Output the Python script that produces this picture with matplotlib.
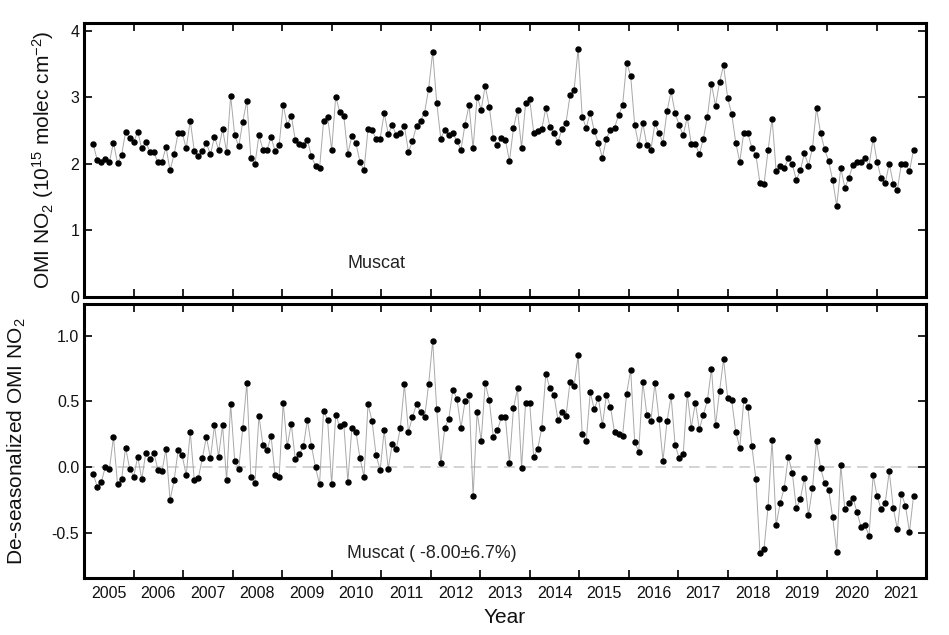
import numpy as np
import matplotlib
matplotlib.use("Agg")
import matplotlib.pyplot as plt
from matplotlib import font_manager
from matplotlib.ticker import FixedLocator, NullFormatter, FixedFormatter

plt.rcParams['font.family'] = ['Liberation Sans', 'DejaVu Sans']
plt.rcParams['mathtext.default'] = 'regular'
plt.rcParams['axes.unicode_minus'] = False

# narrow face for the tick labels if it is there
names = {f.name for f in font_manager.fontManager.ttflist}
if 'Liberation Sans Narrow' in names:
    tick_font, tick_size = 'Liberation Sans Narrow', 13
else:
    tick_font, tick_size = 'Liberation Sans', 11.5

# year labels on the x axis
years = [str(y) for y in range(2005, 2022)]

# monthly OMI NO2 over Muscat (1e15 molec/cm2)
no2 = [
    2.29, 2.05, 2.03, 2.07, 2.03, 2.32, 2.01, 2.13, 2.48, 2.39,
    2.33, 2.48, 2.23, 2.33, 2.18, 2.17, 2.02, 2.03, 2.25, 1.90,
    2.14, 2.46, 2.47, 2.23, 2.65, 2.19, 2.12, 2.19, 2.31, 2.14,
    2.41, 2.21, 2.52, 2.18, 3.02, 2.43, 2.26, 2.63, 2.95, 2.09,
    1.99, 2.43, 2.21, 2.21, 2.40, 2.19, 2.28, 2.89, 2.58, 2.72,
    2.36, 2.29,
    2.28, 2.36, 2.11, 1.97, 1.93, 2.64, 2.71, 2.21, 3.01, 2.78,
    2.72, 2.15, 2.42, 2.31, 2.03, 1.90, 2.52, 2.51, 2.37, 2.38,
    2.76, 2.45, 2.58, 2.43, 2.47, 2.57, 2.18, 2.34, 2.57, 2.65,
    2.77, 3.13, 3.68, 2.92, 2.38, 2.51, 2.43, 2.46, 2.34, 2.21,
    2.59, 2.88, 2.23, 3.01, 2.81, 3.17, 2.86, 2.39, 2.28, 2.39,
    2.36, 2.04,
    2.54, 2.81, 2.24, 2.91, 2.97, 2.47, 2.49, 2.52, 2.84, 2.56,
    2.46, 2.33, 2.52, 2.62, 3.03, 3.11, 3.73, 2.71, 2.54, 2.77,
    2.49, 2.32, 2.09, 2.38, 2.51, 2.54, 2.73, 2.88, 3.52, 3.32,
    2.58, 2.28, 2.61, 2.28, 2.21, 2.61, 2.46, 2.32, 2.79, 3.09,
    2.76, 2.58, 2.43, 2.70, 2.30, 2.30, 2.14, 2.38, 2.71, 3.20,
    2.87, 3.23,
    3.48, 2.99, 2.75, 2.32, 2.03, 2.47, 2.46, 2.24, 2.13, 1.71,
    1.69, 2.20, 2.68, 1.89, 1.96, 1.93, 2.08, 1.99, 1.76, 1.90,
    2.16, 1.97, 2.24, 2.84, 2.46, 2.22, 2.04, 1.75, 1.37, 1.94,
    1.64, 1.79, 1.98, 2.03, 2.03, 2.09, 1.97, 2.38, 2.03, 1.78,
    1.71, 2.00, 1.70, 1.61, 2.00, 2.00, 1.89, 2.21,
]

# de-seasonalized series
deseas = [
    -0.05, -0.15, -0.11, 0.005, -0.01, 0.23, -0.13, -0.09, 0.15, -0.01,
    -0.07, 0.08, -0.09, 0.11, 0.06, 0.11, -0.02, -0.03, 0.14, -0.25,
    -0.10, 0.13, 0.09, -0.06, 0.27, -0.10, -0.08, 0.07, 0.23, 0.07,
    0.32, 0.08, 0.32, -0.10, 0.48, 0.05, -0.01, 0.30, 0.64, -0.07,
    -0.12, 0.39, 0.17, 0.13, 0.24, -0.06, -0.07, 0.49, 0.16, 0.33,
    0.06, 0.10,
    0.16, 0.36, 0.16, 0.00, -0.13, 0.43, 0.36, -0.13, 0.40, 0.31,
    0.33, -0.11, 0.30, 0.27, 0.07, -0.07, 0.48, 0.35, 0.09, -0.02,
    0.28, -0.01, 0.18, 0.14, 0.30, 0.63, 0.27, 0.38, 0.48, 0.42,
    0.38, 0.63, 0.96, 0.44, 0.03, 0.30, 0.37, 0.59, 0.52, 0.30,
    0.50, 0.55, -0.22, 0.42, 0.20, 0.64, 0.51, 0.23, 0.28, 0.38,
    0.38, 0.03,
    0.45, 0.60, -0.005, 0.49, 0.49, 0.08, 0.14, 0.30, 0.71, 0.60,
    0.55, 0.36, 0.42, 0.39, 0.65, 0.62, 0.85, 0.25, 0.20, 0.57,
    0.44, 0.53, 0.32, 0.55, 0.46, 0.27, 0.25, 0.24, 0.56, 0.74,
    0.19, 0.12, 0.65, 0.40, 0.35, 0.64, 0.37, 0.05, 0.35, 0.54,
    0.17, 0.07, 0.10, 0.56, 0.30, 0.49, 0.29, 0.40, 0.51, 0.75,
    0.32, 0.58,
    0.82, 0.53, 0.51, 0.27, 0.15, 0.51, 0.46, 0.16, -0.09, -0.65,
    -0.62, -0.30, 0.21, -0.44, -0.27, -0.16, 0.08, -0.04, -0.31, -0.24,
    -0.08, -0.36, -0.16, 0.20, -0.005, -0.12, -0.17, -0.38, -0.64, 0.02,
    -0.32, -0.27, -0.23, -0.34, -0.45, -0.44, -0.52, -0.06, -0.22, -0.32,
    -0.27, -0.03, -0.31, -0.47, -0.20, -0.29, -0.49, -0.22,
]

months = np.arange(len(no2))
xlim = (-2.3, 206.1)
bounds = np.linspace(xlim[0], xlim[1], len(years) + 1)
mids = (bounds[:-1] + bounds[1:]) / 2

fig = plt.figure(figsize=(9.49, 6.35), dpi=100)
ax1 = fig.add_axes([0.0885, 0.5323, 0.8873, 0.4310])
ax2 = fig.add_axes([0.0885, 0.0898, 0.8873, 0.4315])

txtc = '#111111'
for ax in (ax1, ax2):
    ax.set_xlim(xlim)
    ax.xaxis.set_major_locator(FixedLocator(bounds[1:-1]))
    ax.xaxis.set_major_formatter(NullFormatter())
    ax.xaxis.set_minor_locator(FixedLocator(mids))
    ax.tick_params(which='major', direction='in', length=6, width=1.3,
                   top=True, right=True, colors=txtc)
    ax.tick_params(which='minor', length=0)
    for sp in ax.spines.values():
        sp.set_linewidth(2.2)

ax1.xaxis.set_minor_formatter(NullFormatter())
ax2.xaxis.set_minor_formatter(FixedFormatter(years))
ax2.tick_params(axis='x', which='minor', pad=6, labelcolor=txtc)

# top: monthly NO2
ax1.plot(months, no2, '-', color='#a8a8a8', lw=0.7, zorder=2)
ax1.plot(months, no2, 'o', color='black', ms=3.6, zorder=3)
ax1.set_ylim(0, 4.11)
ax1.set_yticks([0, 1, 2, 3, 4])
ax1.set_ylabel('OMI NO$_2$ (10$^{15}$ molec cm$^{-2}$)', fontsize=15, color=txtc)
ax1.yaxis.set_label_coords(-0.033, 0.5)
ax1.text(62.8, 0.51, 'Muscat', fontsize=13, color='#222222', ha='left', va='center')

# bottom: de-seasonalized
ax2.axhline(0, color='#c8c8c8', lw=1.1, ls=(0, (7, 4)), zorder=1)
ax2.plot(months, deseas, '-', color='#a8a8a8', lw=0.7, zorder=2)
ax2.plot(months, deseas, 'o', color='black', ms=3.6, zorder=3)
ax2.set_ylim(-0.84, 1.24)
ax2.set_yticks([-0.5, 0.0, 0.5, 1.0])
ax2.set_yticklabels(['-0.5', '0.0', '0.5', '1.0'])
ax2.set_ylabel('De-seasonalized OMI NO$_2$', fontsize=15, color=txtc)
ax2.yaxis.set_label_coords(-0.0665, 0.5)
ax2.set_xlabel('Year', fontsize=15, color=txtc, va='center')
ax2.xaxis.set_label_coords(0.5, -0.146)
ax2.text(62.8, -0.657, 'Muscat ( -8.00\u00b16.7%)', fontsize=12.8, color='#222222',
         ha='left', va='center')

for ax in (ax1, ax2):
    for lab in ax.get_yticklabels() + ax.get_xticklabels(which='minor'):
        lab.set_fontfamily(tick_font)
        lab.set_fontsize(tick_size)

fig.savefig('out.png', dpi=100)
